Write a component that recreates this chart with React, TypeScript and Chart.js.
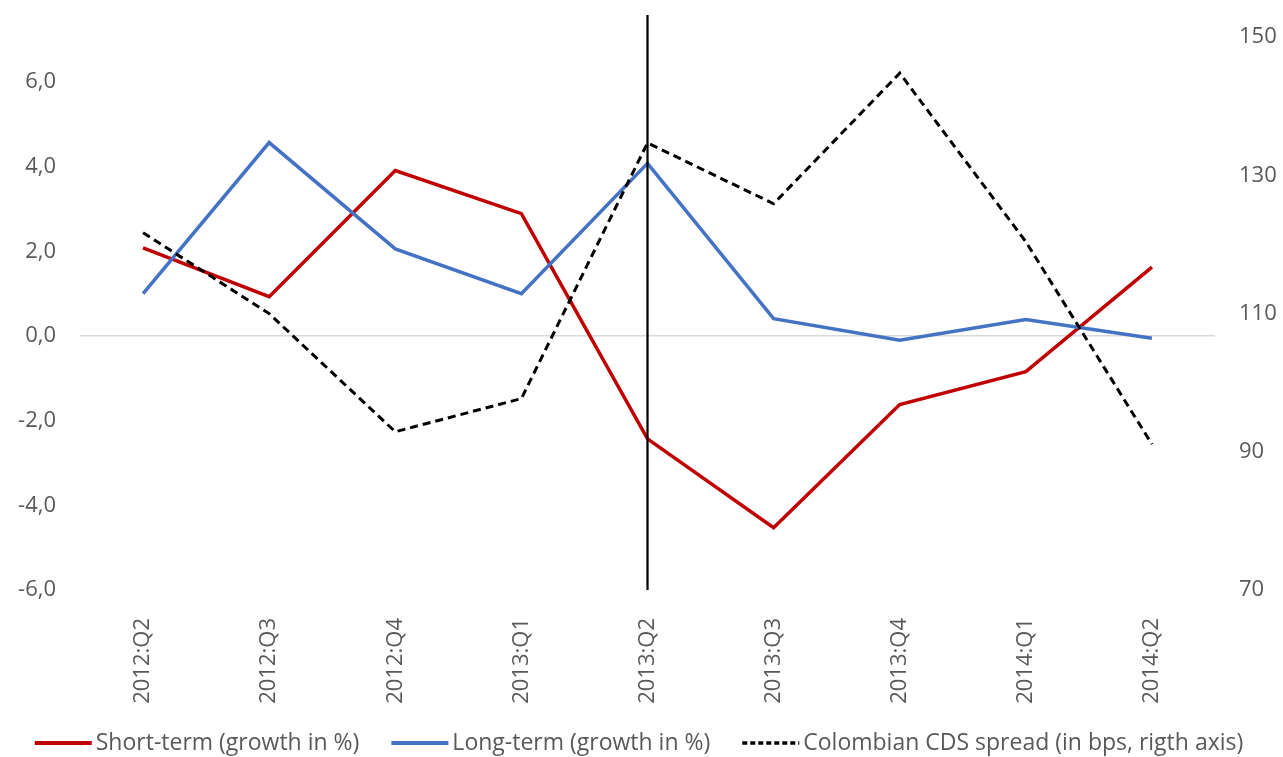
import React, { useEffect, useRef } from 'react';
import { Chart, registerables } from 'chart.js';

Chart.register(...registerables);

const categories = ['2012:Q2', '2012:Q3', '2012:Q4', '2013:Q1', '2013:Q2', '2013:Q3', '2013:Q4', '2014:Q1', '2014:Q2'];
const shortTerm = [2.08, 0.93, 3.91, 2.89, -2.43, -4.53, -1.62, -0.84, 1.63];
const longTerm = [1.0, 4.57, 2.06, 1.0, 4.08, 0.41, -0.1, 0.39, -0.05];
const cdsSpread = [121.7, 110.0, 92.9, 97.7, 134.7, 125.9, 144.8, 120.4, 91.1];
const leftTicks = [-6, -4, -2, 0, 2, 4, 6];
const rightTicks = [70, 90, 110, 130, 150];
const markerCategory = '2013:Q2';
const seriesLabels = [
  'Short-term (growth in %)',
  'Long-term (growth in %)',
  'Colombian CDS spread (in bps, rigth axis)',
];

const FONT = '"Open Sans", sans-serif';
const TEXT = '#595959';

export default function App() {
  const ref = useRef<HTMLCanvasElement>(null);

  useEffect(() => {
    if (!ref.current) return;

    const markerPlugin = {
      id: 'marker',
      afterDatasetsDraw(chart: any) {
        const x = chart.scales.x.getPixelForValue(categories.indexOf(markerCategory));
        const ctx = chart.ctx;
        ctx.save();
        ctx.strokeStyle = '#000000';
        ctx.lineWidth = 2.25;
        ctx.beginPath();
        ctx.moveTo(x, 15);
        ctx.lineTo(x, chart.chartArea.bottom);
        ctx.stroke();
        ctx.restore();
      },
    };

    const legendPlugin = {
      id: 'customLegend',
      afterDraw(chart: any) {
        const ctx = chart.ctx;
        ctx.save();
        ctx.font = `23px ${FONT}`;
        const lineW = 57;
        const gap = 4;
        const sep = 32;
        const items = chart.data.datasets.map((ds: any) => ({
          label: ds.label,
          color: ds.borderColor,
          width: ds.borderWidth + 0.5,
          dash: ds.borderDash || [],
          tw: ctx.measureText(ds.label).width,
        }));
        const total =
          items.reduce((s: number, it: any) => s + lineW + gap + it.tw, 0) + sep * (items.length - 1);
        let x = 639 - total / 2;
        const y = 743;
        for (const it of items) {
          ctx.strokeStyle = it.color;
          ctx.lineWidth = it.width;
          ctx.setLineDash(it.dash.length ? [5, 3] : []);
          ctx.beginPath();
          ctx.moveTo(x, y);
          ctx.lineTo(x + lineW, y);
          ctx.stroke();
          ctx.setLineDash([]);
          ctx.fillStyle = TEXT;
          ctx.textAlign = 'left';
          ctx.textBaseline = 'middle';
          ctx.fillText(it.label, x + lineW + gap, y);
          x += lineW + gap + it.tw + sep;
        }
        ctx.restore();
      },
    };

    const chart = new Chart(ref.current, {
      type: 'line',
      data: {
        labels: categories,
        datasets: [
          {
            label: seriesLabels[0],
            data: shortTerm,
            borderColor: '#C00000',
            backgroundColor: '#C00000',
            borderWidth: 3.5,
            pointRadius: 0,
            tension: 0,
            yAxisID: 'y',
            order: 3,
          },
          {
            label: seriesLabels[1],
            data: longTerm,
            borderColor: '#4472C4',
            backgroundColor: '#4472C4',
            borderWidth: 3.5,
            pointRadius: 0,
            tension: 0,
            yAxisID: 'y',
            order: 2,
          },
          {
            label: seriesLabels[2],
            data: cdsSpread,
            borderColor: '#000000',
            backgroundColor: '#000000',
            borderWidth: 3,
            borderDash: [8, 5],
            pointRadius: 0,
            tension: 0,
            yAxisID: 'y1',
            order: 1,
          },
        ],
      },
      options: {
        responsive: false,
        animation: false,
        layout: { padding: { top: 35, left: 0, right: 0, bottom: 0 } },
        plugins: {
          legend: { display: false },
          tooltip: { enabled: false },
        },
        scales: {
          x: {
            offset: true,
            grid: { display: false },
            border: { display: false },
            ticks: {
              minRotation: 90,
              maxRotation: 90,
              padding: 20,
              color: TEXT,
              font: { family: FONT, size: 22 },
              autoSkip: false,
            },
            afterFit: (scale: any) => {
              scale.height = 167;
            },
          },
          y: {
            position: 'left',
            min: -6,
            max: 7.06,
            afterBuildTicks: (scale: any) => {
              scale.ticks = leftTicks.map((v) => ({ value: v }));
            },
            grid: {
              drawTicks: false,
              lineWidth: 1.5,
              color: (c: any) => (c.tick && c.tick.value === 0 ? '#d9d9d9' : 'rgba(0,0,0,0)'),
            },
            border: { display: false },
            ticks: {
              padding: 24,
              color: TEXT,
              font: { family: FONT, size: 22 },
              callback: (v: any) => Number(v).toFixed(1).replace('.', ','),
            },
            afterFit: (scale: any) => {
              scale.width = 80;
            },
          },
          y1: {
            position: 'right',
            min: 70,
            max: 150,
            afterBuildTicks: (scale: any) => {
              scale.ticks = rightTicks.map((v) => ({ value: v }));
            },
            grid: { display: false, drawTicks: false },
            border: { display: false },
            ticks: {
              padding: 24,
              color: TEXT,
              font: { family: FONT, size: 22 },
              callback: (v: any) => String(v),
            },
            afterFit: (scale: any) => {
              scale.width = 68;
            },
          },
        },
      },
      plugins: [markerPlugin, legendPlugin],
    });

    return () => chart.destroy();
  }, []);

  return (
    <div style={{ position: 'fixed', left: 0, top: 0, width: 1283, height: 757, background: '#ffffff' }}>
      <canvas ref={ref} width={1283} height={757} style={{ display: 'block' }} />
    </div>
  );
}
